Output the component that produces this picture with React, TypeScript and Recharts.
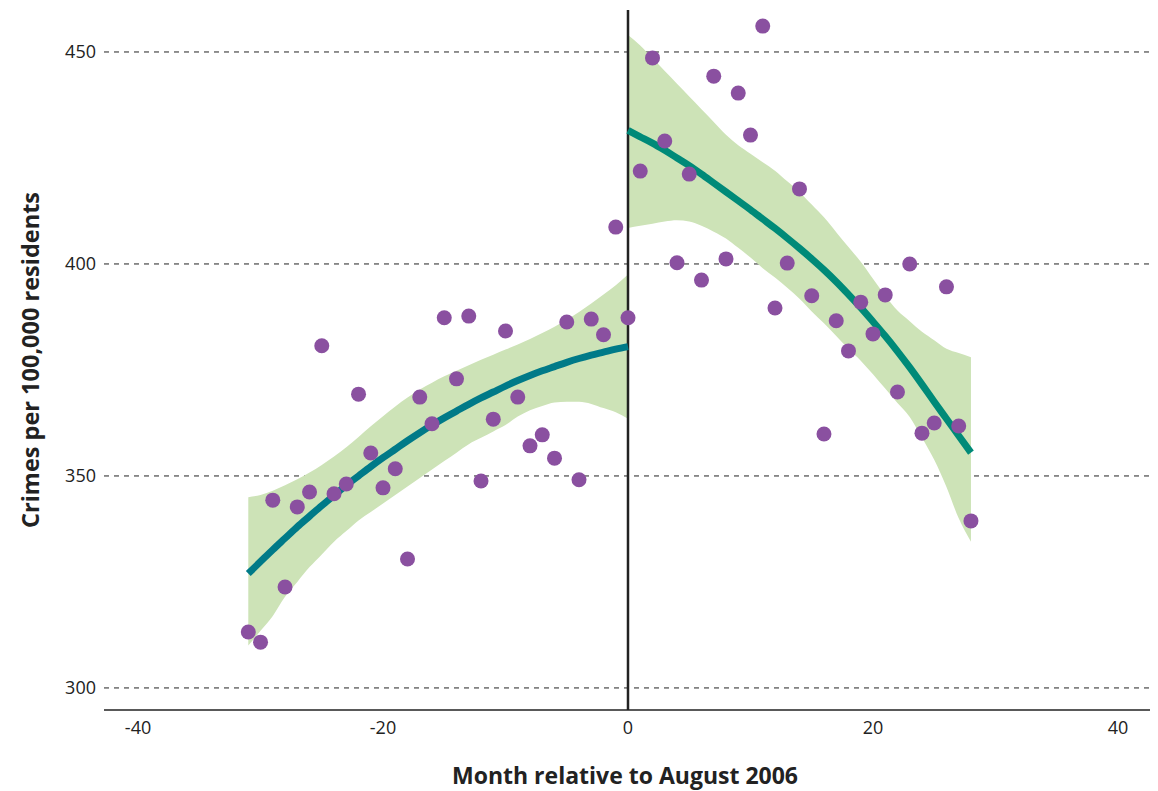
import React from 'react';
import {
  ComposedChart,
  Area,
  Line,
  Scatter,
  XAxis,
  YAxis,
  CartesianGrid,
  ReferenceLine,
  Label,
} from 'recharts';

// monthly observations, month relative to Aug 2006
const preMonths = [
  -31, -30, -29, -28, -27, -26, -25, -24, -23, -22, -21, -20, -19, -18, -17, -16,
  -15, -14, -13, -12, -11, -10, -9, -8, -7, -6, -5, -4, -3, -2, -1, 0,
];
const preCrimes = [
  313.2, 310.8, 344.3, 323.8, 342.7, 346.2, 380.7, 345.8, 348.1, 369.3, 355.4, 347.2, 351.7, 330.4, 368.6, 362.3,
  387.3, 372.9, 387.7, 348.8, 363.4, 384.2, 368.6, 357.1, 359.7, 354.2, 386.3, 349.1, 387.0, 383.3, 408.7, 387.3,
];
const preFit = [
  327.0, 329.8, 332.6, 335.3, 338.0, 340.5, 343.0, 345.4, 347.8, 350.0, 352.2, 354.3, 356.3, 358.3, 360.2, 362.0,
  363.7, 365.3, 366.9, 368.4, 369.8, 371.2, 372.5, 373.7, 374.8, 375.8, 376.8, 377.7, 378.5, 379.2, 379.9, 380.5,
];
const preLower = [
  310.0, 313.5, 317.0, 321.5, 325.0, 328.5, 331.5, 334.5, 337.0, 339.5, 341.5, 343.5, 345.5, 347.5, 349.5, 351.5,
  353.5, 355.5, 357.5, 359.0, 360.5, 362.0, 364.0, 365.5, 366.5, 367.3, 367.5, 367.5, 367.0, 366.0, 365.0, 363.5,
];
const preUpper = [
  345.0, 345.5, 346.5, 347.8, 349.2, 350.8, 352.6, 354.6, 356.8, 359.2, 361.7, 364.1, 366.4, 368.5, 370.4, 372.0,
  373.5, 374.8, 376.1, 377.4, 378.6, 379.8, 381.0, 382.3, 383.7, 385.2, 386.9, 388.7, 390.7, 392.8, 395.0, 397.5,
];

const postMonths = [
  1, 2, 3, 4, 5, 6, 7, 8, 9, 10, 11, 12, 13, 14, 15, 16, 17, 18, 19, 20, 21, 22, 23, 24, 25, 26, 27, 28,
];
const postCrimes = [
  421.9, 448.6, 429.0, 400.3, 421.2, 396.2, 444.3, 401.2, 440.3, 430.4, 456.1, 389.6, 400.2, 417.7,
  392.5, 359.9, 386.6, 379.5, 391.0, 383.5, 392.7, 369.8, 400.0, 360.1, 362.5, 394.6, 361.8, 339.4,
];
const postFitMonths = [
  0, 1, 2, 3, 4, 5, 6, 7, 8, 9, 10, 11, 12, 13, 14, 15, 16, 17, 18, 19, 20, 21, 22, 23, 24, 25, 26, 27, 28,
];
const postFit = [
  431.5, 430.0, 428.5, 426.8, 425.0, 423.2, 421.2, 419.1, 417.0, 414.9, 412.8, 410.6, 408.4, 406.1, 403.7,
  401.2, 398.6, 395.8, 392.8, 389.7, 386.4, 383.0, 379.4, 375.6, 371.6, 367.5, 363.5, 359.5, 355.5,
];
const postLower = [
  408.5, 409.0, 409.5, 410.0, 410.3, 410.0, 409.0, 407.6, 406.0, 403.8, 401.5, 399.0, 396.8, 394.4, 391.8,
  388.8, 386.0, 383.0, 380.0, 377.2, 374.0, 370.6, 367.2, 363.9, 359.0, 353.8, 347.4, 340.0, 334.5,
];
const postUpper = [
  454.0, 451.5, 448.5, 445.5, 442.5, 439.5, 436.5, 433.5, 430.5, 428.0, 426.0, 424.0, 422.0, 419.5, 417.0,
  414.0, 411.0, 407.5, 404.0, 400.5, 396.5, 392.5, 389.0, 386.5, 384.0, 382.0, 380.0, 379.0, 378.0,
];

const xTicks = [-40, -20, 0, 20, 40];
const yTicks = [300, 350, 400, 450];

const prePoints = preMonths.map((m, i) => ({ m, v: preCrimes[i] }));
const postPoints = postMonths.map((m, i) => ({ m, v: postCrimes[i] }));
const points = [...prePoints, ...postPoints];

const preSmooth = preMonths.map((m, i) => ({ m, fit: preFit[i], band: [preLower[i], preUpper[i]] }));
const postSmooth = postFitMonths.map((m, i) => ({ m, fit: postFit[i], band: [postLower[i], postUpper[i]] }));

const font = '"Open Sans", "DejaVu Sans", sans-serif';
const titleStyle = { fontSize: 23, fontWeight: 700, fill: '#222', fontFamily: font };

const Dot = (props: any) => {
  const { cx, cy } = props;
  return <circle cx={cx} cy={cy} r={7.5} fill="#8A50A0" />;
};

const App = () => {
  return (
    <div style={{ width: 1150, height: 783 }}>
      <ComposedChart width={1150} height={783} margin={{ top: 2, right: 0, bottom: 0, left: 0 }}>
        <CartesianGrid vertical={false} horizontalValues={yTicks} stroke="#222" strokeDasharray="5 5" />
        <XAxis
          type="number"
          dataKey="m"
          domain={[-42.78, 43.27]}
          ticks={xTicks}
          allowDataOverflow
          height={81}
          tickLine={false}
          tickMargin={5}
          axisLine={{ stroke: '#222', strokeWidth: 1.5 }}
          tick={{ fontSize: 18, fill: '#222', fontFamily: font }}
        >
          <Label
            content={({ viewBox }: any) => (
              <text
                x={viewBox.x + viewBox.width / 2 - 6}
                y={viewBox.y + 74}
                textAnchor="middle"
                style={titleStyle}
              >
                Month relative to August 2006
              </text>
            )}
          />
        </XAxis>
        <YAxis
          type="number"
          domain={[294.8, 459.9]}
          ticks={yTicks}
          allowDataOverflow
          width={96}
          tickLine={false}
          axisLine={false}
          tick={{ fontSize: 18, fill: '#222', fontFamily: font }}
        >
          <Label
            content={({ viewBox }: any) => {
              const x = viewBox.x + 22;
              const y = viewBox.y + viewBox.height / 2;
              return (
                <text
                  x={x}
                  y={y}
                  transform={`rotate(-90 ${x} ${y})`}
                  textAnchor="middle"
                  dominantBaseline="central"
                  style={{ ...titleStyle, fontSize: 23.5 }}
                >
                  Crimes per 100,000 residents
                </text>
              );
            }}
          />
        </YAxis>
        <Area
          data={preSmooth}
          dataKey="band"
          type="monotone"
          stroke="none"
          fill="#CDE3B7"
          fillOpacity={1}
          isAnimationActive={false}
        />
        <Area
          data={postSmooth}
          dataKey="band"
          type="monotone"
          stroke="none"
          fill="#CDE3B7"
          fillOpacity={1}
          isAnimationActive={false}
        />
        <ReferenceLine x={0} stroke="#222" strokeWidth={2.5} />
        <Line
          data={preSmooth}
          dataKey="fit"
          type="monotone"
          stroke="#007A88"
          strokeWidth={7}
          dot={false}
          activeDot={false}
          isAnimationActive={false}
        />
        <Line
          data={postSmooth}
          dataKey="fit"
          type="monotone"
          stroke="#008A78"
          strokeWidth={7}
          dot={false}
          activeDot={false}
          isAnimationActive={false}
        />
        <Scatter data={points} dataKey="v" shape={Dot} isAnimationActive={false} />
      </ComposedChart>
    </div>
  );
};

export default App;
